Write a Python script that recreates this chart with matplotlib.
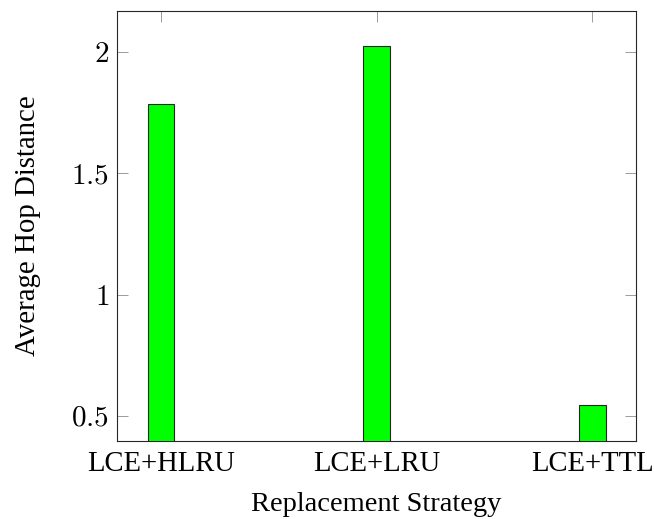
import numpy as np
import matplotlib
matplotlib.use('Agg')
import matplotlib.pyplot as plt

plt.rcParams['font.family'] = ['Liberation Serif', 'DejaVu Serif']
plt.rcParams['mathtext.fontset'] = 'cm'

# data
strategies = ['LCE+HLRU', 'LCE+LRU', 'LCE+TTL']
hop_distance = [1.786, 2.022, 0.547]
y_ticks = [0.5, 1.0, 1.5, 2.0]
y_tick_labels = ['$0.5$', '$1$', '$1.5$', '$2$']

fig = plt.figure(figsize=(6.54, 5.19), dpi=100)
ax = fig.add_axes([0.1794, 0.1509, 0.7926, 0.8285])

x = np.arange(len(strategies))
ax.bar(x, hop_distance, width=0.123, color='#00ff00', edgecolor='#262626',
       linewidth=0.8, zorder=3)

ax.set_xlim(-0.203, 2.201)
ax.set_ylim(0.398, 2.169)

ax.set_xticks(x)
ax.set_xticklabels(strategies, fontsize=20.6)
ax.set_yticks(y_ticks)
ax.set_yticklabels(y_tick_labels, fontsize=21)

ax.tick_params(direction='in', length=7.7, width=0.6, color='#8c8c8c',
               top=True, right=True)
ax.tick_params(axis='x', pad=7.5)
ax.tick_params(axis='y', pad=6)
for s in ax.spines.values():
    s.set_linewidth(0.8)
    s.set_color('#262626')

ax.set_xlabel('Replacement Strategy', fontsize=20.5, labelpad=11)
ax.set_ylabel('Average Hop Distance', fontsize=20.8, labelpad=22)

fig.savefig('out.png', dpi=100)
